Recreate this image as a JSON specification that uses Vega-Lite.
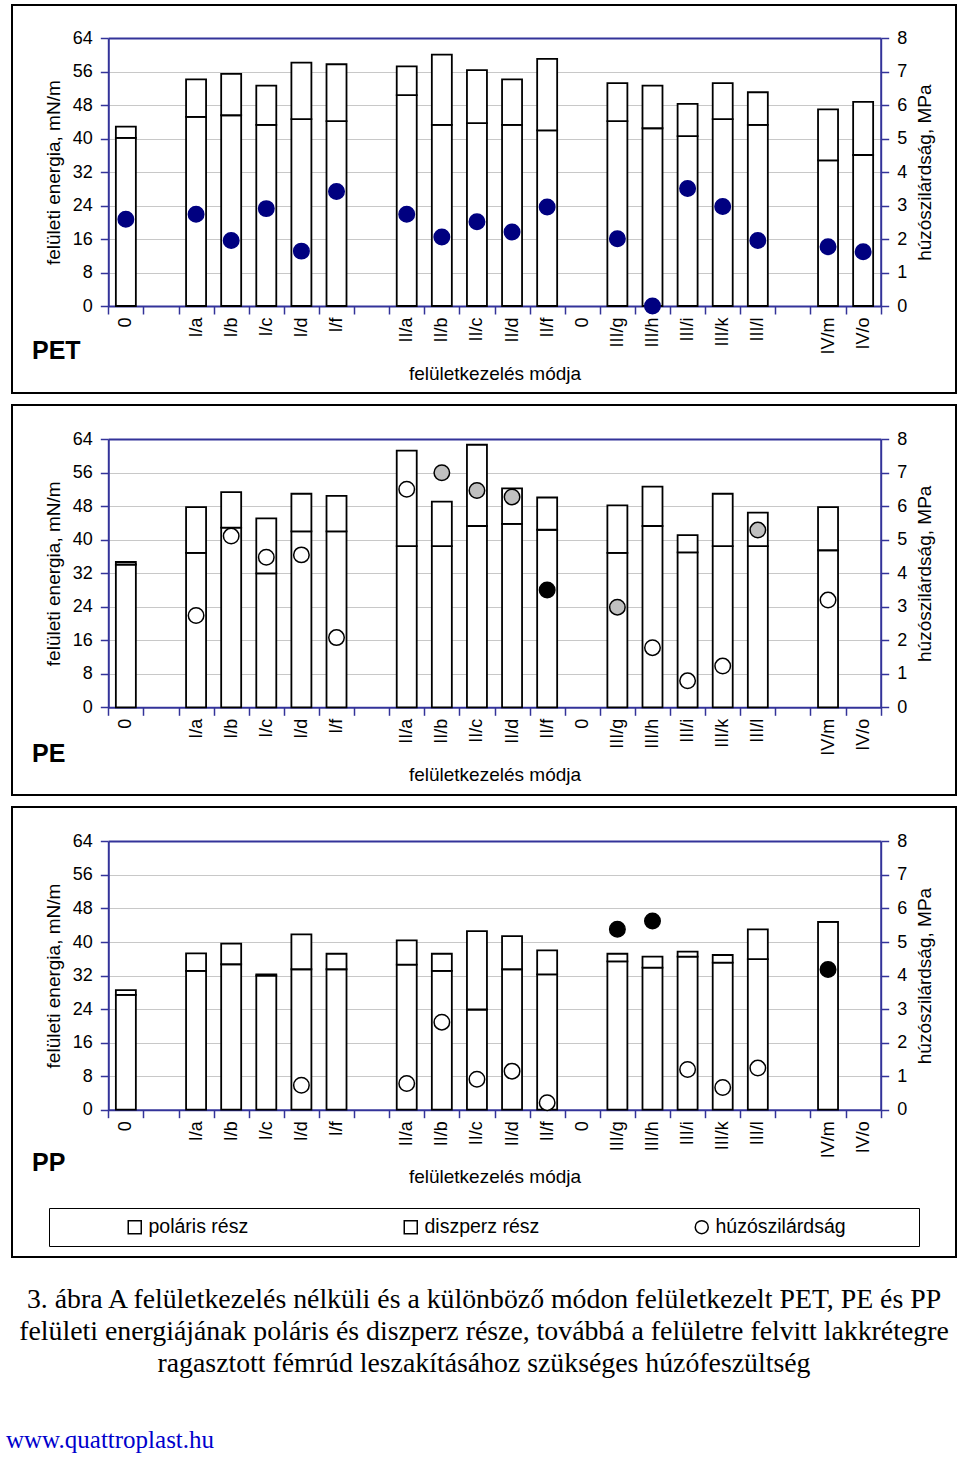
{
"$schema": "https://vega.github.io/schema/vega-lite/v6.json",
"background": "white",
"padding": {"left": 6, "top": 4, "right": 3, "bottom": 0},
"spacing": 10,
"config": {
  "view": {"stroke": "black", "strokeWidth": 2},
  "font": "Liberation Sans",
  "axis": {"labelFont": "Liberation Sans", "titleFont": "Liberation Sans", "labelFontSize": 18, "titleFontSize": 19, "titleFontWeight": "normal", "labelColor": "black", "titleColor": "black", "domainColor": "#333399", "domainWidth": 2, "tickColor": "#333399", "tickWidth": 1.5, "tickSize": 8, "labelPadding": 8}
},
"datasets": {
  "pet_e": [
    {"k":"0|a","diszperz rész":40.2,"poláris rész":2.7},
    {"k":"I/a","diszperz rész":45.2,"poláris rész":9.0},
    {"k":"I/b","diszperz rész":45.6,"poláris rész":9.9},
    {"k":"I/c","diszperz rész":43.3,"poláris rész":9.4},
    {"k":"I/d","diszperz rész":44.7,"poláris rész":13.5},
    {"k":"I/f","diszperz rész":44.2,"poláris rész":13.6},
    {"k":"II/a","diszperz rész":50.4,"poláris rész":6.9},
    {"k":"II/b","diszperz rész":43.3,"poláris rész":16.8},
    {"k":"II/c","diszperz rész":43.7,"poláris rész":12.7},
    {"k":"II/d","diszperz rész":43.3,"poláris rész":10.9},
    {"k":"II/f","diszperz rész":42.0,"poláris rész":17.1},
    {"k":"III/g","diszperz rész":44.2,"poláris rész":9.1},
    {"k":"III/h","diszperz rész":42.5,"poláris rész":10.2},
    {"k":"III/i","diszperz rész":40.6,"poláris rész":7.7},
    {"k":"III/k","diszperz rész":44.7,"poláris rész":8.6},
    {"k":"III/l","diszperz rész":43.3,"poláris rész":7.8},
    {"k":"IV/m","diszperz rész":34.8,"poláris rész":12.2},
    {"k":"IV/o","diszperz rész":36.1,"poláris rész":12.7}
  ],
  "pet_t": [
    {"k":"0|a","mpa":2.59,"g":"A"},
    {"k":"I/a","mpa":2.74,"g":"A"},
    {"k":"I/b","mpa":1.96,"g":"A"},
    {"k":"I/c","mpa":2.91,"g":"A"},
    {"k":"I/d","mpa":1.64,"g":"A"},
    {"k":"I/f","mpa":3.42,"g":"A"},
    {"k":"II/a","mpa":2.74,"g":"A"},
    {"k":"II/b","mpa":2.06,"g":"A"},
    {"k":"II/c","mpa":2.52,"g":"A"},
    {"k":"II/d","mpa":2.21,"g":"A"},
    {"k":"II/f","mpa":2.96,"g":"A"},
    {"k":"III/g","mpa":2.01,"g":"A"},
    {"k":"III/h","mpa":0.0,"g":"A"},
    {"k":"III/i","mpa":3.51,"g":"A"},
    {"k":"III/k","mpa":2.97,"g":"A"},
    {"k":"III/l","mpa":1.96,"g":"A"},
    {"k":"IV/m","mpa":1.77,"g":"A"},
    {"k":"IV/o","mpa":1.62,"g":"A"}
  ],
  "pe_e": [
    {"k":"0|a","diszperz rész":34.1,"poláris rész":0.6},
    {"k":"I/a","diszperz rész":36.9,"poláris rész":10.9},
    {"k":"I/b","diszperz rész":42.9,"poláris rész":8.5},
    {"k":"I/c","diszperz rész":32.0,"poláris rész":13.1},
    {"k":"I/d","diszperz rész":42.0,"poláris rész":9.0},
    {"k":"I/f","diszperz rész":42.0,"poláris rész":8.5},
    {"k":"II/a","diszperz rész":38.5,"poláris rész":22.8},
    {"k":"II/b","diszperz rész":38.5,"poláris rész":10.6},
    {"k":"II/c","diszperz rész":43.3,"poláris rész":19.4},
    {"k":"II/d","diszperz rész":43.8,"poláris rész":8.5},
    {"k":"II/f","diszperz rész":42.4,"poláris rész":7.7},
    {"k":"III/g","diszperz rész":36.9,"poláris rész":11.3},
    {"k":"III/h","diszperz rész":43.3,"poláris rész":9.4},
    {"k":"III/i","diszperz rész":37.0,"poláris rész":4.1},
    {"k":"III/k","diszperz rész":38.5,"poláris rész":12.5},
    {"k":"III/l","diszperz rész":38.5,"poláris rész":8.0},
    {"k":"IV/m","diszperz rész":37.5,"poláris rész":10.3}
  ],
  "pe_t": [
    {"k":"I/a","mpa":2.74,"g":"B"},
    {"k":"I/b","mpa":5.11,"g":"B"},
    {"k":"I/c","mpa":4.48,"g":"B"},
    {"k":"I/d","mpa":4.55,"g":"B"},
    {"k":"I/f","mpa":2.08,"g":"B"},
    {"k":"II/a","mpa":6.51,"g":"B"},
    {"k":"II/b","mpa":7.0,"g":"C"},
    {"k":"II/c","mpa":6.47,"g":"C"},
    {"k":"II/d","mpa":6.28,"g":"C"},
    {"k":"II/f","mpa":3.5,"g":"D"},
    {"k":"III/g","mpa":2.99,"g":"C"},
    {"k":"III/h","mpa":1.78,"g":"B"},
    {"k":"III/i","mpa":0.79,"g":"B"},
    {"k":"III/k","mpa":1.23,"g":"B"},
    {"k":"III/l","mpa":5.29,"g":"C"},
    {"k":"IV/m","mpa":3.2,"g":"B"}
  ],
  "pp_e": [
    {"k":"0|a","diszperz rész":27.4,"poláris rész":1.1},
    {"k":"I/a","diszperz rész":33.1,"poláris rész":4.2},
    {"k":"I/b","diszperz rész":34.7,"poláris rész":4.9},
    {"k":"I/c","diszperz rész":32.0,"poláris rész":0.3},
    {"k":"I/d","diszperz rész":33.5,"poláris rész":8.3},
    {"k":"I/f","diszperz rész":33.5,"poláris rész":3.7},
    {"k":"II/a","diszperz rész":34.6,"poláris rész":5.8},
    {"k":"II/b","diszperz rész":33.1,"poláris rész":4.1},
    {"k":"II/c","diszperz rész":23.9,"poláris rész":18.7},
    {"k":"II/d","diszperz rész":33.5,"poláris rész":7.9},
    {"k":"II/f","diszperz rész":32.3,"poláris rész":5.7},
    {"k":"III/g","diszperz rész":35.4,"poláris rész":1.8},
    {"k":"III/h","diszperz rész":33.9,"poláris rész":2.6},
    {"k":"III/i","diszperz rész":36.5,"poláris rész":1.2},
    {"k":"III/k","diszperz rész":35.1,"poláris rész":1.8},
    {"k":"III/l","diszperz rész":35.9,"poláris rész":7.1},
    {"k":"IV/m","diszperz rész":44.8,"poláris rész":0.0}
  ],
  "pp_t": [
    {"k":"I/d","mpa":0.73,"g":"B"},
    {"k":"II/a","mpa":0.78,"g":"B"},
    {"k":"II/b","mpa":2.61,"g":"B"},
    {"k":"II/c","mpa":0.91,"g":"B"},
    {"k":"II/d","mpa":1.15,"g":"B"},
    {"k":"II/f","mpa":0.21,"g":"B"},
    {"k":"III/g","mpa":5.38,"g":"D"},
    {"k":"III/h","mpa":5.63,"g":"D"},
    {"k":"III/i","mpa":1.2,"g":"B"},
    {"k":"III/k","mpa":0.66,"g":"B"},
    {"k":"III/l","mpa":1.24,"g":"B"},
    {"k":"IV/m","mpa":4.18,"g":"D"}
  ],
  "cap": [
    {"c":"3. ábra A felületkezelés nélküli és a különböző módon felületkezelt PET, PE és PP\nfelületi energiájának poláris és diszperz része, továbbá a felületre felvitt lakkrétegre\nragasztott fémrúd leszakításához szükséges húzófeszültség"}
  ]
},
"vconcat": [
{
  "width": 944, "height": 388,
  "title": {"text":"PET","orient":"bottom","anchor":"start","frame":"group","baseline":"alphabetic","offset":-34,"dx":20,"fontSize":25,"fontWeight":"bold","font":"Liberation Sans","color":"black"},
  "layer": [
    {"data":{"name":"pet_e"},
     "transform":[{"fold":["diszperz rész","poláris rész"],"as":["part","v"]}],
     "mark":{"type":"bar","width":20,"stroke":"black","strokeWidth":1.8},
     "encoding":{
       "x":{"field":"k","type":"nominal","sort":null,"scale":{"domain":["0|a","|1","I/a","I/b","I/c","I/d","I/f","|7","II/a","II/b","II/c","II/d","II/f","0|b","III/g","III/h","III/i","III/k","III/l","|19","IV/m","IV/o"],"range":[96.3,868.7],"paddingInner":0,"paddingOuter":0},
            "axis":{"orient":"bottom","offset":-87,"title":"felületkezelés módja","titlePadding":10,"labelAngle":-90,"labelPadding":3,"labelExpr":"datum.value ? split(datum.value,'|')[0] : ''","labelFontSize":{"condition":{"test":"!datum.value","value":0},"value":18},"tickBand":"extent","grid":false}},
       "y":{"field":"v","type":"quantitative","stack":"zero","scale":{"domain":[0,64],"range":[301,33.3],"nice":false},
            "axis":{"orient":"left","offset":-96.3,"values":[0,8,16,24,32,40,48,56,64],"title":"felületi energia, mN/m","titlePadding":9,"grid":true,"gridColor":{"condition":{"test":"datum.value === 64","value":"#333399"},"value":"#c8c8c8"},"gridWidth":{"condition":{"test":"datum.value === 64","value":2},"value":1}}},
       "color":{"field":"part","type":"nominal","scale":{"domain":["poláris rész","diszperz rész","húzószilárdság"],"range":["white","white","white"]},
            "legend":{"title":"\u00a0","titleOrient":"right","titlePadding":64,"orient":"none","legendX":37,"legendY":1203,"direction":"horizontal","columns":3,"columnPadding":85,"symbolOffset":67,"padding":9,"strokeColor":"black","labelFontSize":19.5,"labelFont":"Liberation Sans","labelColor":"black","symbolType":"square","symbolSize":169,"symbolStrokeColor":"black","symbolStrokeWidth":1.5,"symbolFillColor":"white","labelOffset":4,
              "encode":{"symbols":{"update":{"shape":{"signal":"datum.value === 'húzószilárdság' ? 'circle' : 'square'"}}}}}},
       "order":{"field":"part","sort":"ascending"}
     }},
    {"data":{"name":"pet_t"},
     "mark":{"type":"point","filled":true,"size":240,"strokeWidth":1.5,"opacity":1},
     "encoding":{
       "x":{"field":"k","type":"nominal","sort":null},
       "y":{"field":"mpa","type":"quantitative","scale":{"domain":[0,8],"range":[301,33.3],"nice":false},
            "axis":{"orient":"right","offset":-75.3,"values":[0,1,2,3,4,5,6,7,8],"title":"húzószilárdság, MPa","titlePadding":9,"titleAngle":270,"titleBaseline":"top","grid":false}},
       "fill":{"field":"g","type":"nominal","scale":{"domain":["A","B","C","D"],"range":["#000080","white","#c0c0c0","black"]},"legend":null},
       "stroke":{"field":"g","type":"nominal","scale":{"domain":["A","B","C","D"],"range":["#000080","black","black","black"]},"legend":null}
     }}
  ],
  "resolve":{"scale":{"y":"independent"}}
},
{
  "width": 944, "height": 390,
  "title": {"text":"PE","orient":"bottom","anchor":"start","frame":"group","baseline":"alphabetic","offset":-33,"dx":20,"fontSize":25,"fontWeight":"bold","font":"Liberation Sans","color":"black"},
  "layer": [
    {"data":{"name":"pe_e"},
     "transform":[{"fold":["diszperz rész","poláris rész"],"as":["part","v"]}],
     "mark":{"type":"bar","width":20,"stroke":"black","strokeWidth":1.8},
     "encoding":{
       "x":{"field":"k","type":"nominal","sort":null,"scale":{"domain":["0|a","|1","I/a","I/b","I/c","I/d","I/f","|7","II/a","II/b","II/c","II/d","II/f","0|b","III/g","III/h","III/i","III/k","III/l","|19","IV/m","IV/o"],"range":[96.3,868.7],"paddingInner":0,"paddingOuter":0},
            "axis":{"orient":"bottom","offset":-87.7,"title":"felületkezelés módja","titlePadding":10,"labelAngle":-90,"labelPadding":3,"labelExpr":"datum.value ? split(datum.value,'|')[0] : ''","labelFontSize":{"condition":{"test":"!datum.value","value":0},"value":18},"tickBand":"extent","grid":false}},
       "y":{"field":"v","type":"quantitative","stack":"zero","scale":{"domain":[0,64],"range":[302.3,34.3],"nice":false},
            "axis":{"orient":"left","offset":-96.3,"values":[0,8,16,24,32,40,48,56,64],"title":"felületi energia, mN/m","titlePadding":9,"grid":true,"gridColor":{"condition":{"test":"datum.value === 64","value":"#333399"},"value":"#c8c8c8"},"gridWidth":{"condition":{"test":"datum.value === 64","value":2},"value":1}}},
       "color":{"field":"part","type":"nominal","scale":{"domain":["poláris rész","diszperz rész","húzószilárdság"],"range":["white","white","white"]}},
       "order":{"field":"part","sort":"ascending"}
     }},
    {"data":{"name":"pe_t"},
     "mark":{"type":"point","filled":true,"size":240,"strokeWidth":1.5,"opacity":1},
     "encoding":{
       "x":{"field":"k","type":"nominal","sort":null},
       "y":{"field":"mpa","type":"quantitative","scale":{"domain":[0,8],"range":[302.3,34.3],"nice":false},
            "axis":{"orient":"right","offset":-75.3,"values":[0,1,2,3,4,5,6,7,8],"title":"húzószilárdság, MPa","titlePadding":9,"titleAngle":270,"titleBaseline":"top","grid":false}},
       "fill":{"field":"g","type":"nominal","scale":{"domain":["A","B","C","D"],"range":["#000080","white","#c0c0c0","black"]},"legend":null},
       "stroke":{"field":"g","type":"nominal","scale":{"domain":["A","B","C","D"],"range":["#000080","black","black","black"]},"legend":null}
     }}
  ],
  "resolve":{"scale":{"y":"independent"}}
},
{
  "width": 944, "height": 450,
  "title": {"text":"PP","orient":"bottom","anchor":"start","frame":"group","baseline":"alphabetic","offset":-86,"dx":20,"fontSize":25,"fontWeight":"bold","font":"Liberation Sans","color":"black"},
  "layer": [
    {"data":{"name":"pp_e"},
     "transform":[{"fold":["diszperz rész","poláris rész"],"as":["part","v"]}],
     "mark":{"type":"bar","width":20,"stroke":"black","strokeWidth":1.8},
     "encoding":{
       "x":{"field":"k","type":"nominal","sort":null,"scale":{"domain":["0|a","|1","I/a","I/b","I/c","I/d","I/f","|7","II/a","II/b","II/c","II/d","II/f","0|b","III/g","III/h","III/i","III/k","III/l","|19","IV/m","IV/o"],"range":[96.3,868.7],"paddingInner":0,"paddingOuter":0},
            "axis":{"orient":"bottom","offset":-147.3,"title":"felületkezelés módja","titlePadding":10,"labelAngle":-90,"labelPadding":3,"labelExpr":"datum.value ? split(datum.value,'|')[0] : ''","labelFontSize":{"condition":{"test":"!datum.value","value":0},"value":18},"tickBand":"extent","grid":false}},
       "y":{"field":"v","type":"quantitative","stack":"zero","scale":{"domain":[0,64],"range":[302.7,34.4],"nice":false},
            "axis":{"orient":"left","offset":-96.3,"values":[0,8,16,24,32,40,48,56,64],"title":"felületi energia, mN/m","titlePadding":9,"grid":true,"gridColor":{"condition":{"test":"datum.value === 64","value":"#333399"},"value":"#c8c8c8"},"gridWidth":{"condition":{"test":"datum.value === 64","value":2},"value":1}}},
       "color":{"field":"part","type":"nominal","scale":{"domain":["poláris rész","diszperz rész","húzószilárdság"],"range":["white","white","white"]}},
       "order":{"field":"part","sort":"ascending"}
     }},
    {"data":{"name":"pp_t"},
     "mark":{"type":"point","filled":true,"size":240,"strokeWidth":1.5,"opacity":1},
     "encoding":{
       "x":{"field":"k","type":"nominal","sort":null},
       "y":{"field":"mpa","type":"quantitative","scale":{"domain":[0,8],"range":[302.7,34.4],"nice":false},
            "axis":{"orient":"right","offset":-75.3,"values":[0,1,2,3,4,5,6,7,8],"title":"húzószilárdság, MPa","titlePadding":9,"titleAngle":270,"titleBaseline":"top","grid":false}},
       "fill":{"field":"g","type":"nominal","scale":{"domain":["A","B","C","D"],"range":["#000080","white","#c0c0c0","black"]},"legend":null},
       "stroke":{"field":"g","type":"nominal","scale":{"domain":["A","B","C","D"],"range":["#000080","black","black","black"]},"legend":null}
     }}
  ],
  "resolve":{"scale":{"y":"independent"}}
},
{
  "width": 944, "height": 64,
  "view": {"stroke": null},
  "title": {"text":"www.quattroplast.hu","orient":"bottom","anchor":"start","frame":"group","offset":50,"dx":-6,"font":"Liberation Serif","fontSize":25,"fontWeight":"normal","color":"#0000cc"},
  "data": {"name":"cap"},
  "mark": {"type":"text","lineBreak":"\n","lineHeight":32,"font":"Liberation Serif","fontSize":27.8,"align":"center","baseline":"middle","color":"black"},
  "encoding": {"text":{"field":"c","type":"nominal"}}
}
]
}
